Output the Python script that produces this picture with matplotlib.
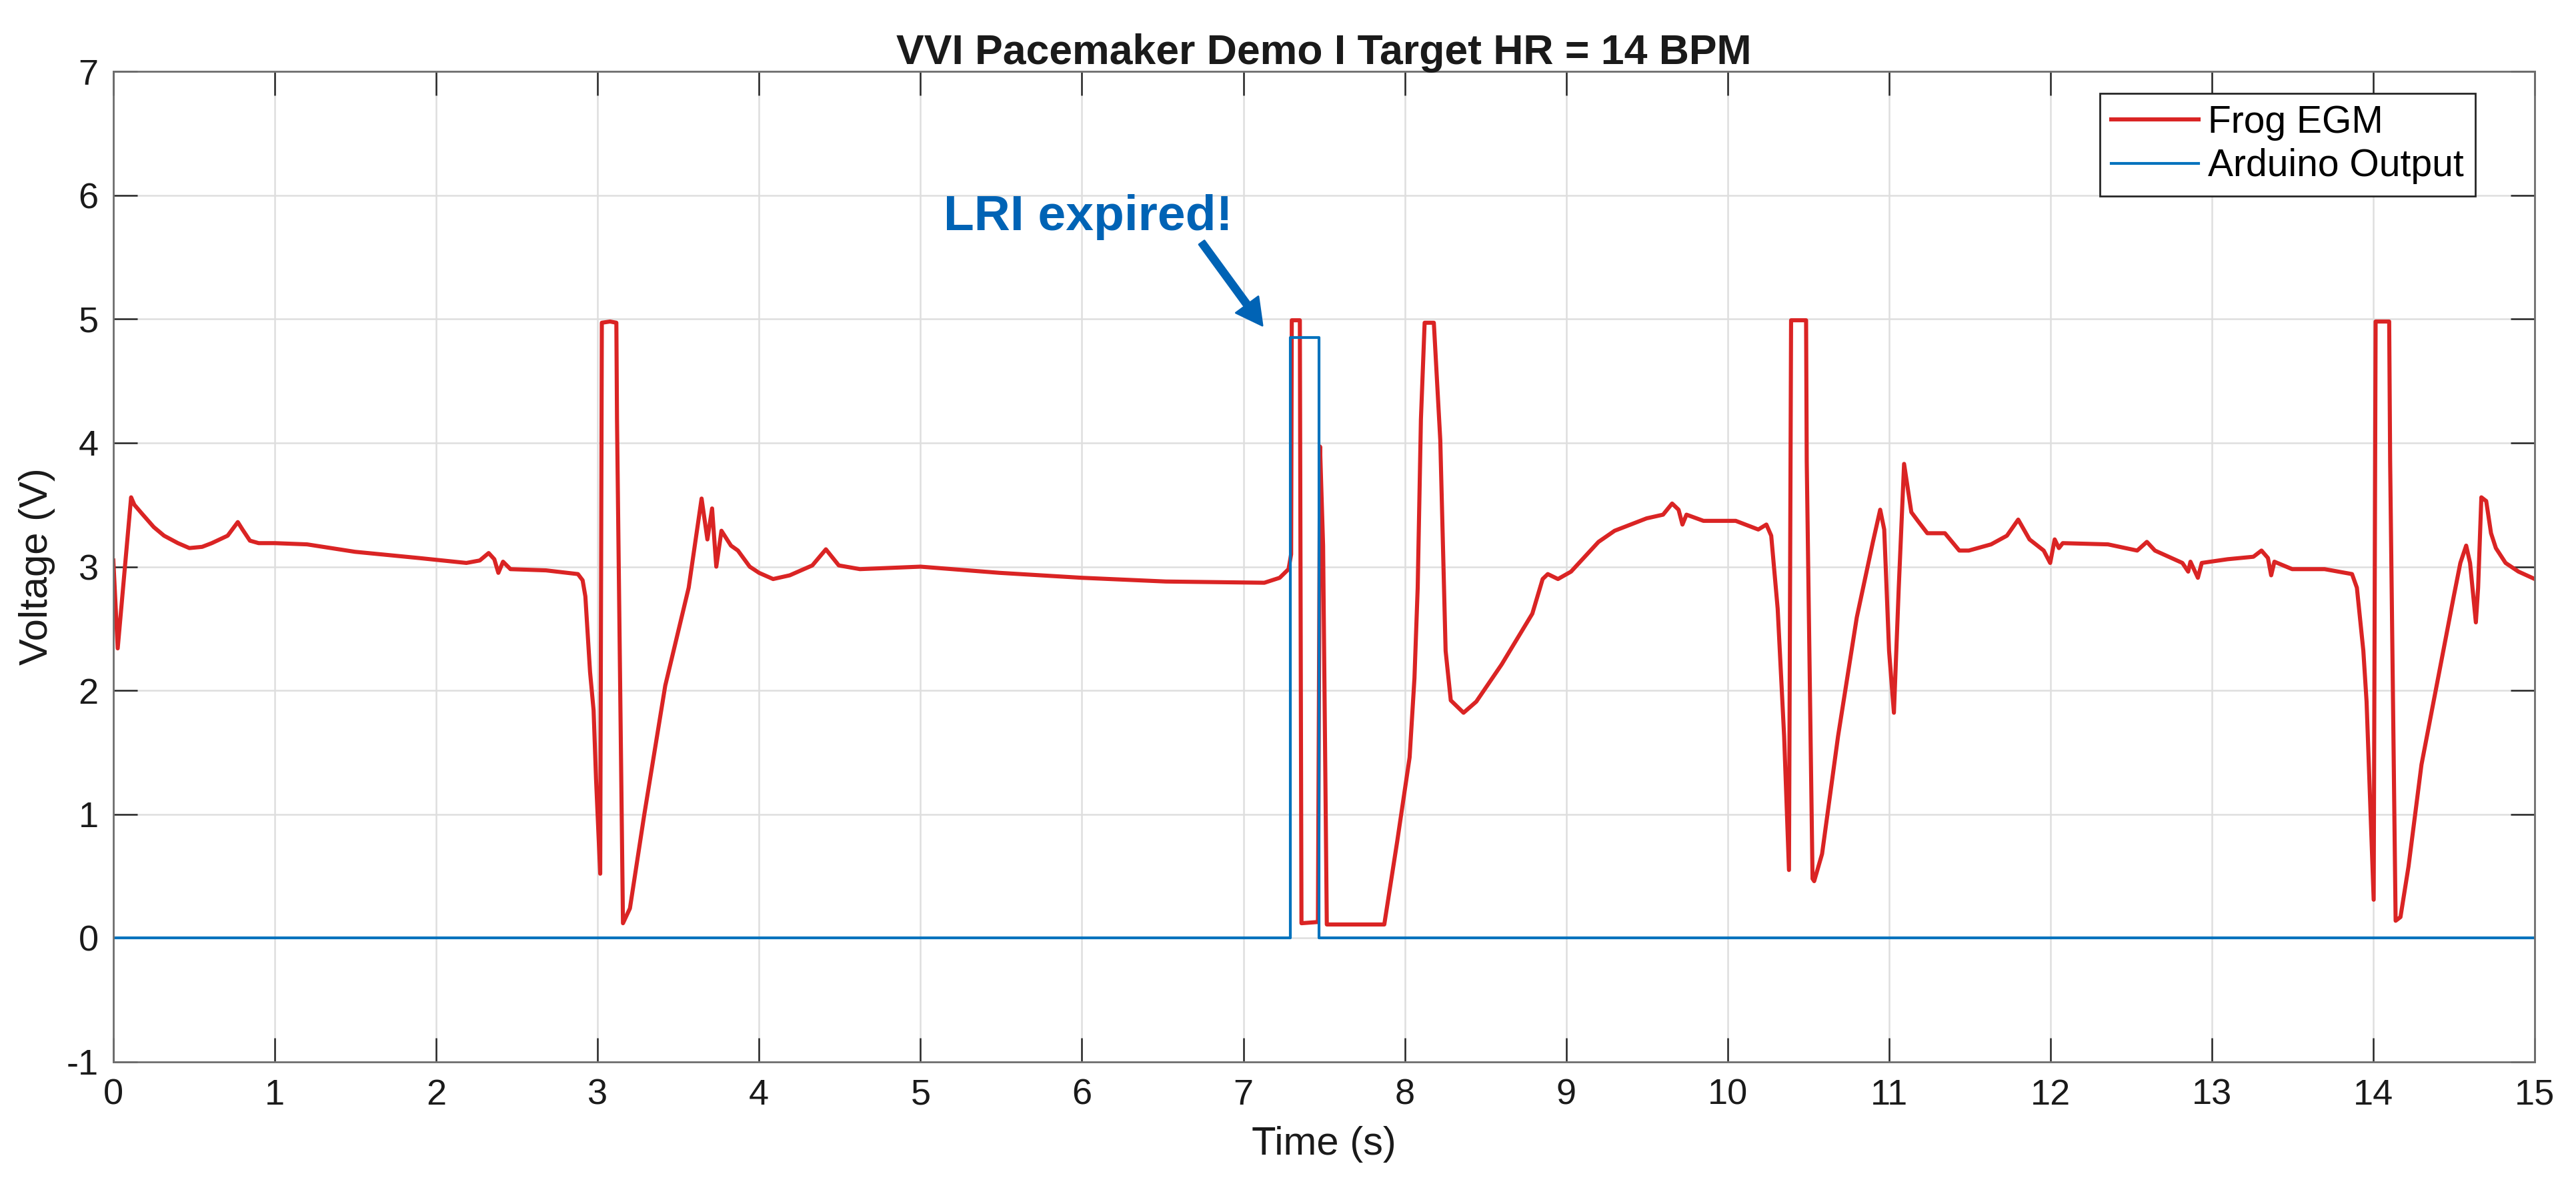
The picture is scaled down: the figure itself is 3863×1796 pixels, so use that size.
import matplotlib
matplotlib.use("Agg")
import matplotlib.pyplot as plt

plt.rcParams['font.family'] = ['Liberation Sans', 'DejaVu Sans']
plt.rcParams['axes.unicode_minus'] = False

# ---- data ----
egm_t = [0.0, 0.027, 0.11, 0.13, 0.176, 0.25, 0.314, 0.40, 0.471, 0.55, 0.61, 0.708,
         0.771, 0.80, 0.846, 0.9, 1.0, 1.2, 1.497, 1.89, 2.187, 2.27, 2.325, 2.36,
         2.385, 2.414, 2.46, 2.68, 2.878, 2.907,
         2.924, 2.953, 2.975, 2.99, 3.016, 3.026, 3.077, 3.116, 3.12, 3.157, 3.2,
         3.288, 3.419, 3.564, 3.644, 3.68, 3.709, 3.735, 3.767, 3.826, 3.869, 3.942,
         4.0, 4.087, 4.19, 4.33, 4.414, 4.494, 4.625, 5.0,
         5.49, 6.0, 6.52, 7.13, 7.225, 7.28, 7.296, 7.30, 7.35, 7.36, 7.462, 7.475,
         7.494, 7.517, 7.873, 7.953, 8.03, 8.06, 8.08, 8.10, 8.123, 8.18, 8.22, 8.253,
         8.285, 8.364, 8.443, 8.60, 8.79, 8.854, 8.886, 8.949, 9.03, 9.2,
         9.30, 9.498, 9.6, 9.656, 9.696, 9.72, 9.745, 9.85, 10.05, 10.19, 10.24,
         10.27, 10.31, 10.35, 10.38, 10.393, 10.486, 10.49, 10.526, 10.536, 10.585,
         10.684, 10.80, 10.90, 10.945, 10.97, 11.0, 11.03, 11.06, 11.093, 11.138,
         11.178, 11.237, 11.296, 11.346, 11.435, 11.494, 11.632, 11.73, 11.80, 11.87,
         11.958, 11.998, 12.026, 12.052, 12.076,
         12.356, 12.537, 12.597, 12.647, 12.817, 12.853, 12.867, 12.913, 12.937,
         13.097, 13.257, 13.307, 13.347, 13.367, 13.387, 13.497, 13.698, 13.868,
         13.898, 13.938, 13.958, 13.978, 14.002, 14.014, 14.098, 14.104, 14.138,
         14.168, 14.218, 14.298, 14.398, 14.498, 14.539, 14.575, 14.599, 14.635,
         14.649, 14.669, 14.699, 14.729, 14.759, 14.819, 14.899, 15.0]
egm_v = [3.05, 2.34, 3.56, 3.50, 3.43, 3.32, 3.25, 3.19, 3.15, 3.16, 3.19, 3.25,
         3.36, 3.30, 3.21, 3.19, 3.19, 3.18, 3.12, 3.07, 3.03, 3.05, 3.11, 3.06,
         2.95, 3.04, 2.98, 2.97, 2.94, 2.89,
         2.76, 2.15, 1.84, 1.29, 0.52, 4.97, 4.98, 4.97, 4.19, 0.12, 0.24,
         0.99, 2.04, 2.83, 3.55, 3.22, 3.47, 3.00, 3.29, 3.17, 3.13, 3.00,
         2.95, 2.90, 2.93, 3.01, 3.14, 3.01, 2.98, 3.00,
         2.95, 2.91, 2.88, 2.87, 2.91, 2.98, 3.10, 4.99, 4.99, 0.12, 0.13, 3.97,
         3.17, 0.11, 0.11, 0.78, 1.46, 2.10, 2.83, 4.19, 4.97, 4.97, 4.02, 2.32,
         1.92, 1.82, 1.91, 2.21, 2.62, 2.90, 2.94, 2.90, 2.96, 3.20,
         3.29, 3.39, 3.42, 3.51, 3.46, 3.34, 3.42, 3.37, 3.37, 3.30, 3.34,
         3.25, 2.66, 1.63, 0.55, 4.99, 4.99, 3.85, 0.48, 0.46, 0.68,
         1.63, 2.59, 3.20, 3.46, 3.30, 2.32, 1.82, 2.83, 3.83, 3.44,
         3.37, 3.27, 3.27, 3.27, 3.13, 3.13, 3.18, 3.25, 3.38, 3.22,
         3.13, 3.03, 3.22, 3.15, 3.19,
         3.18, 3.13, 3.20, 3.13, 3.03, 2.96, 3.04, 2.91, 3.03,
         3.06, 3.08, 3.13, 3.07, 2.93, 3.04, 2.98, 2.98, 2.94,
         2.83, 2.32, 1.91, 1.19, 0.31, 4.98, 4.98, 3.85, 0.14,
         0.17, 0.58, 1.40, 2.08, 2.76, 3.03, 3.17, 3.03, 2.55,
         2.83, 3.56, 3.53, 3.27, 3.15, 3.03, 2.96, 2.90]

ard_t = [0.0, 7.29, 7.29, 7.47, 7.47, 15.0]
ard_v = [0.0, 0.0, 4.85, 4.85, 0.0, 0.0]

series_labels = ["Frog EGM", "Arduino Output"]
x_ticks = list(range(0, 16))
y_ticks = list(range(-1, 8))
title_text = "VVI Pacemaker Demo I Target HR = 14 BPM"
annot_text = "LRI expired!"

# ---- figure ----
fig = plt.figure(figsize=(3863 / 200, 1796 / 200), dpi=200)
ax = fig.add_axes([0.044, 0.1136, 0.940, 0.8268])

red = '#DA2424'
blue = '#0072BD'
ax.plot(egm_t, egm_v, color=red, lw=2.2, label=series_labels[0])
ax.plot(ard_t, ard_v, color=blue, lw=1.5, label=series_labels[1])

ax.set_xlim(0, 15)
ax.set_ylim(-1, 7)
ax.set_xticks(x_ticks)
ax.set_yticks(y_ticks)
ax.grid(True, color='#DEDEDE', lw=0.9)
ax.set_axisbelow(True)

for s in ax.spines.values():
    s.set_color('#6E6E6E')
    s.set_linewidth(1.0)

ax.tick_params(direction='in', length=13, width=0.9, color='#262626',
               top=True, right=True, labelsize=19.5, labelcolor='#1A1A1A')
ax.tick_params(axis='x', pad=9)
ax.tick_params(axis='y', pad=8)

ax.set_xlabel("Time (s)", fontsize=21.5, color='#1A1A1A')
ax.set_ylabel("Voltage (V)", fontsize=21.5, color='#1A1A1A')
ax.xaxis.set_label_coords(0.5, -0.0646)
ax.yaxis.set_label_coords(-0.024, 0.5)
ax.set_title(title_text, fontsize=22.5, fontweight='bold', color='#1A1A1A', pad=4)

ann_col = '#0063B5'
ax.text(6.04, 5.72, annot_text, color=ann_col, fontsize=27, fontweight='bold',
        ha='center', va='baseline')
ax.annotate('', xy=(7.118, 4.947), xytext=(6.742, 5.618),
            arrowprops=dict(facecolor=ann_col, edgecolor=ann_col, width=3.6,
                            headwidth=15, headlength=14, shrink=0))

leg = ax.legend(loc='upper right', bbox_to_anchor=(0.9755, 0.9778),
                borderaxespad=0, fontsize=20.5, fancybox=False, framealpha=1,
                edgecolor='#262626', handlelength=2.3, handletextpad=0.25,
                borderpad=0.3, labelspacing=0.2)
leg.get_frame().set_linewidth(1.0)

fig.savefig("out.png", dpi=200)
